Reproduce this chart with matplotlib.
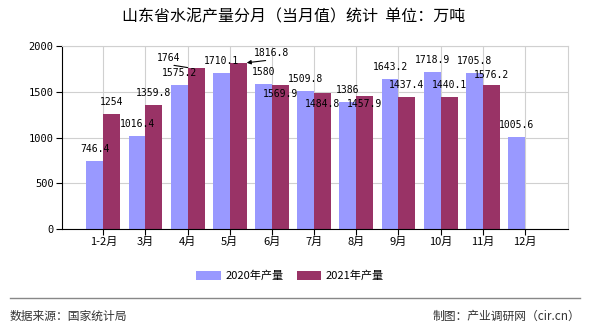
import numpy as np
import matplotlib.pyplot as plt

plt.rcParams['font.family'] = ['Noto Sans CJK SC', 'DejaVu Sans']

# Dữ liệu
months = ["1-2月", "3月", "4月", "5月", "6月", "7月", "8月", "9月", "10月", "11月", "12月"]
output2020 = [746.4, 1016.4, 1575.2, 1710.1, 1580, 1509.8, 1386, 1643.2, 1718.9, 1705.8, 1005.6]
output2021 = [1254, 1359.8, 1764, 1816.8, 1569.9, 1484.8, 1457.9, 1437.4, 1440.1, 1576.2, None]
yTicks = [0, 500, 1000, 1500, 2000]

# vị trí nhãn (pixel) so với đỉnh cột
offset2020 = [(0, 12)] * 11
offset2021 = [(0, 12), (0, 12), (-19, 10), (25, 10), (0, -9), (0, -11), (0, -8),
              (0, 12), (0, 12), (0, 10), (0, 12)]

color2020 = "#9999FF"
color2021 = "#993366"
barWidth = 0.4


def drawLabels(ax, xs, values, offsets, which):
    for i in range(len(values)):
        if values[i] is None:
            continue
        text = ("%g" % values[i])
        dx, dy = offsets[i]
        kw = dict(xytext=(dx, dy), textcoords='offset pixels', ha='center', va='center',
                  fontsize=7, family='DejaVu Sans Mono')
        if which == 2021 and i == 2:
            # nhãn 4月 kéo sang trái, gạch chân tới góc cột
            ax.annotate(text, xy=(xs[i] - barWidth / 2, values[i]),
                        arrowprops=dict(arrowstyle='-', color='black', lw=0.8,
                                        relpos=(0, 0), shrinkA=0, shrinkB=0), **kw)
        elif which == 2021 and i == 3:
            ax.annotate(text, xy=(xs[i] + barWidth / 2, values[i]),
                        arrowprops=dict(arrowstyle='-|>', color='black', lw=0.8,
                                        mutation_scale=6, relpos=(1, 0), shrinkA=0, shrinkB=0), **kw)
        else:
            ax.annotate(text, xy=(xs[i], values[i]), **kw)


fig = plt.figure(figsize=(5.9, 3.3), dpi=100)
ax = fig.add_axes([62 / 590, 1 - 229 / 330, 506 / 590, 183 / 330])

x = np.arange(len(months))
v2021 = [np.nan if v is None else v for v in output2021]
ax.bar(x - barWidth / 2, output2020, barWidth, color=color2020, label="2020年产量", zorder=2)
ax.bar(x + barWidth / 2, v2021, barWidth, color=color2021, label="2021年产量", zorder=2)

drawLabels(ax, x - barWidth / 2, output2020, offset2020, 2020)
drawLabels(ax, x + barWidth / 2, output2021, offset2021, 2021)

ax.set_xlim(-0.98, len(months) + 0.02)
ax.set_ylim(0, 2000)
ax.set_xticks(x)
ax.set_xticklabels(months, fontsize=8)
ax.set_yticks(yTicks)
ax.set_yticklabels([str(t) for t in yTicks], fontsize=7.5, family='DejaVu Sans Mono')
ax.tick_params(axis='both', direction='out', length=4, width=0.8, pad=2)
ax.grid(True, color='#d0d0d0', lw=0.8, zorder=0)
ax.set_axisbelow(True)
ax.spines['top'].set_color('#d0d0d0')
ax.spines['right'].set_color('#d0d0d0')

fig.text(294 / 590, 1 - 17 / 330, "山东省水泥产量分月（当月值）统计  单位：万吨",
         ha='center', va='center', fontsize=11.5)
fig.legend(loc='center', bbox_to_anchor=(290 / 590, 1 - 276 / 330), ncol=2, frameon=False,
           fontsize=8, handlelength=2.2, handleheight=0.9, columnspacing=1.2, handletextpad=0.4)
fig.add_artist(plt.Line2D([10 / 590, 580 / 590], [1 - 298 / 330, 1 - 298 / 330],
                          color='#888888', lw=1))
fig.text(10 / 590, 1 - 316 / 330, "数据来源：国家统计局", ha='left', va='center', fontsize=8.5, color='#333333')
fig.text(580 / 590, 1 - 316 / 330, "制图：产业调研网（cir.cn）", ha='right', va='center', fontsize=8.5, color='#333333')

plt.savefig("out.png", dpi=100)
